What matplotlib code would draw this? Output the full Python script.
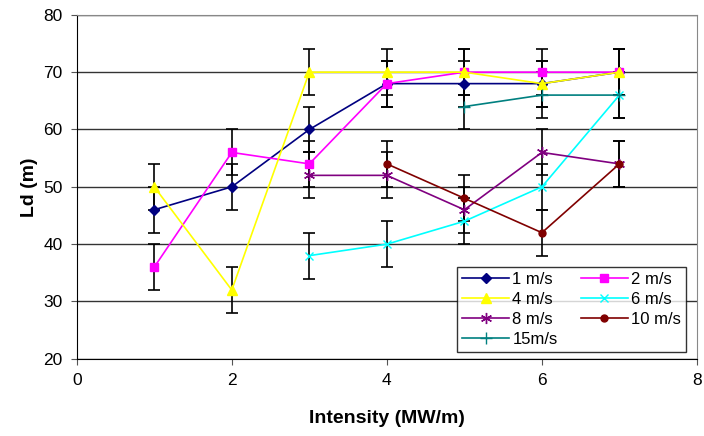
import numpy as np
import matplotlib.pyplot as plt

plt.rcParams['font.family'] = ['Liberation Sans', 'DejaVu Sans']

# datos
x_all = [1, 2, 3, 4, 5, 6, 7]
v1 = [46, 50, 60, 68, 68, 68, 70]
v2 = [36, 56, 54, 68, 70, 70, 70]
v4 = [50, 32, 70, 70, 70, 68, 70]
x6 = [3, 4, 5, 6, 7]
v6 = [38, 40, 44, 50, 66]
x8 = [3, 4, 5, 6, 7]
v8 = [52, 52, 46, 56, 54]
x10 = [4, 5, 6, 7]
v10 = [54, 48, 42, 54]
x15 = [5, 6, 7]
v15 = [64, 66, 66]
err = 4  # barras de error +-4 m

series = [
    (x_all, v1, '1 m/s', '#000080', 'D', 5),
    (x_all, v2, '2 m/s', '#FF00FF', 's', 6),
    (x_all, v4, '4 m/s', '#FFFF00', '^', 7),
    (x6, v6, '6 m/s', '#00FFFF', 'x', 6),
    (x8, v8, '8 m/s', '#800080', (6, 2, 0), 8),
    (x10, v10, '10 m/s', '#800000', 'o', 5),
    (x15, v15, '15m/s', '#008080', '+', 8),
]

fig = plt.figure(figsize=(7.04, 4.36), dpi=100)
ax = fig.add_axes([0.109, 0.177, 0.881, 0.789])

handles = []
for xs, ys, lab, col, mk, ms in series:
    ax.errorbar(xs, ys, yerr=err, fmt='none', ecolor='black', elinewidth=1.2,
                capsize=4, capthick=1.2, zorder=2)
    h, = ax.plot(xs, ys, color=col, marker=mk, markersize=ms, linewidth=1.2,
                 markeredgecolor=col, label=lab, zorder=3)
    handles.append(h)

ax.set_xlim(0, 8)
ax.set_ylim(20, 80)
ax.set_xticks([0, 2, 4, 6, 8])
ax.set_yticks(np.arange(20, 81, 10))
ax.yaxis.grid(True, color='#333333', linewidth=1)
ax.set_axisbelow(True)
ax.tick_params(labelsize=12.5, length=4, direction='out', color='#555555', pad=6)
for s in ['top', 'right']:
    ax.spines[s].set_color('#888888')
for s in ['left', 'bottom']:
    ax.spines[s].set_color('black')

ax.set_xlabel('Intensity (MW/m)', fontsize=14, fontweight='bold', labelpad=16)
ax.set_ylabel('Ld (m)', fontsize=14, fontweight='bold', labelpad=4)

# leyenda por filas como en el original
order = [0, 2, 4, 6, 1, 3, 5]
leg = ax.legend([handles[i] for i in order], [handles[i].get_label() for i in order],
                ncol=2, loc='lower right', bbox_to_anchor=(0.982, 0.02),
                fontsize=12, frameon=True, fancybox=False, edgecolor='black',
                handlelength=2.8, columnspacing=1.4, labelspacing=0.3,
                handletextpad=0.2, borderpad=0.3, borderaxespad=0)
leg.get_frame().set_linewidth(1)

fig.savefig('out.png', dpi=100)
